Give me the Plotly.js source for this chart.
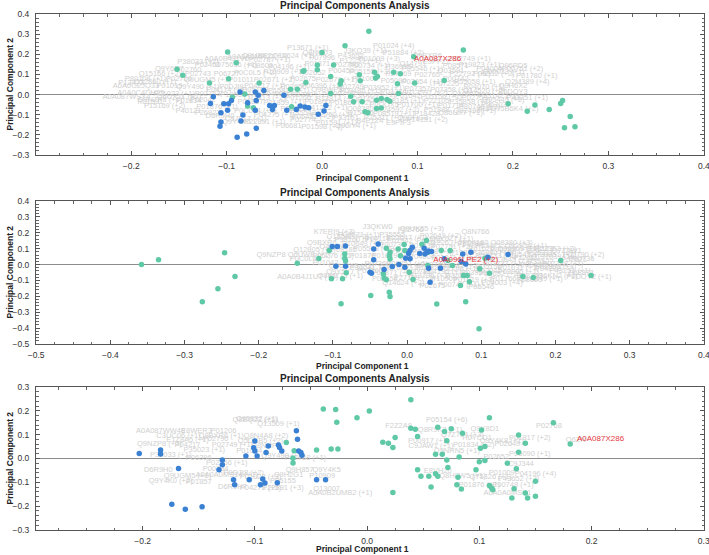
<!DOCTYPE html>
<html>
<head>
<meta charset="utf-8">
<script src="https://cdn.plot.ly/plotly-3.0.1.min.js"></script>
<style>html,body{margin:0;padding:0;background:#fff;}#chart{width:709px;height:555px;}</style>
</head>
<body>
<div id="chart"></div>
<script>
// ---------- Panel 1 ----------
const p1GreenX = [-0.099,-0.090,-0.152,-0.146,-0.118,-0.098,-0.066,-0.081,-0.094,-0.078,-0.072,-0.032,-0.033,-0.026,-0.017,-0.020,-0.019,-0.005,-0.005,0.000,0.012,0.009,0.009,
  0.049,0.024,0.148,0.096,0.020,0.019,0.039,0.040,0.055,0.058,0.056,0.075,0.082,0.079,0.080,0.097,0.128,0.030,0.033,0.042,0.057,0.062,0.068,0.071,0.057,0.062,0.045,0.048,0.195,0.215,0.223,0.238,0.250,0.252,0.260,0.254,0.265];
const p1GreenY = [0.212,0.158,0.126,0.096,0.057,0.078,0.057,0.003,-0.013,-0.057,-0.065,-0.060,0.026,0.026,0.060,0.116,0.118,0.123,0.147,0.209,0.147,0.090,0.005,
  0.314,0.242,0.221,0.188,0.069,0.052,0.098,0.069,0.111,0.090,0.082,0.111,0.103,0.054,0.005,0.057,0.070,-0.008,-0.036,-0.036,-0.028,-0.020,-0.025,-0.033,-0.069,-0.067,-0.085,-0.090,-0.046,-0.083,-0.052,-0.074,-0.044,-0.029,-0.109,-0.165,-0.160];
const p1BlueX = [-0.086,-0.070,-0.061,-0.067,-0.040,-0.114,-0.095,-0.069,-0.117,-0.103,-0.098,-0.078,-0.055,-0.050,-0.052,-0.099,-0.070,-0.037,-0.027,-0.023,-0.018,-0.014,0.004,-0.004,0.002,-0.106,-0.083,-0.106,-0.085,-0.107,-0.069,-0.079,-0.089];
const p1BlueY = [0.013,0.013,0.020,-0.003,-0.003,-0.011,-0.029,-0.029,-0.044,-0.046,-0.046,-0.041,-0.054,-0.054,-0.074,-0.078,-0.078,-0.078,-0.074,-0.057,-0.062,-0.065,-0.054,-0.098,-0.082,-0.090,-0.101,-0.136,-0.131,-0.158,-0.167,-0.196,-0.212];
const p1LabelX = [-0.015,0.045,0.075,0.085,0.11,0.155,-0.005,0.03,-0.03,-0.075,-0.1,-0.13,-0.055,0.06,0.12,0.165,0.2,0.21,0.19,0.175,
  -0.16,-0.14,-0.17,-0.13,-0.09,-0.065,-0.035,-0.005,0.025,0.05,0.08,0.105,0.135,0.155,0.11,0.08,0.05,0.02,-0.01,-0.04,-0.07,-0.1,
  -0.185,-0.15,-0.12,-0.085,-0.05,-0.02,0.015,0.045,0.075,0.105,0.13,0.16,0.215,
  -0.195,-0.16,-0.13,-0.095,-0.06,-0.03,0.0,0.03,0.065,0.1,0.135,0.17,0.2,
  -0.19,-0.155,-0.12,-0.085,-0.05,-0.015,0.02,0.055,0.09,0.125,0.16,0.19,0.215,
  -0.17,-0.14,-0.165,-0.14,-0.11,-0.075,-0.04,-0.005,0.03,0.065,0.1,0.135,0.165,0.195,
  -0.107,-0.08,-0.09,-0.05,-0.02,0.01,0.04,0.075,0.11,0.145,-0.06,-0.02,0.015,0.05,0.08,0.11,0.0,-0.035,0.035,
  -0.12,-0.06,0.0,0.04,0.095,0.14,0.18,0.225,0.2,0.17,0.14,-0.175,-0.2,-0.205,-0.18,-0.15,-0.125,-0.1,-0.07,-0.035,0.005,0.04,0.075,0.11,0.15,0.185,
  0.05,0.015,-0.025,-0.06,0.085,0.12,0.155,0.18,-0.07,-0.03,0.005,0.04,0.08,0.12,0.16,-0.12,0.065,0.025,-0.01,0.095];
const p1LabelY = [0.232,0.215,0.240,0.205,0.19,0.175,0.205,0.19,0.19,0.185,0.178,0.162,0.17,0.175,0.16,0.148,0.14,0.125,0.11,0.125,
  0.125,0.12,0.10,0.10,0.145,0.14,0.135,0.15,0.145,0.14,0.135,0.125,0.115,0.10,0.095,0.10,0.11,0.115,0.105,0.11,0.105,0.10,
  0.075,0.075,0.07,0.07,0.07,0.075,0.07,0.075,0.065,0.06,0.05,0.06,0.064,
  0.04,0.04,0.035,0.035,0.04,0.035,0.04,0.035,0.03,0.025,0.02,0.015,0.01,
  0.005,0.0,0.0,-0.005,0.0,-0.005,0.0,-0.005,-0.01,-0.015,-0.02,-0.03,-0.02,
  -0.03,-0.035,-0.055,-0.08,-0.06,-0.04,-0.045,-0.04,-0.045,-0.05,-0.05,-0.055,-0.06,-0.07,
  -0.108,-0.12,-0.135,-0.1,-0.09,-0.1,-0.09,-0.095,-0.095,-0.09,-0.135,-0.125,-0.14,-0.13,-0.14,-0.125,-0.16,-0.155,-0.155,
  0.145,0.19,0.18,0.165,0.15,0.14,0.1,0.09,0.04,0.035,0.075,0.06,0.055,-0.015,-0.04,-0.015,-0.03,0.02,0.02,0.015,0.02,0.015,0.01,0.005,0.0,-0.01,
  -0.03,-0.025,-0.02,-0.02,-0.035,-0.035,-0.04,-0.05,-0.08,-0.07,-0.065,-0.07,-0.075,-0.075,-0.08,-0.09,-0.115,-0.115,-0.11,-0.115];
const p1LabelText = ["P13671 (+1)","J3KQ39 (+1)","P01024 (+4)","P51884 (+2)","Q9BXR6","P02749 (+1)","Q8N6Q3","P43652","Q14624 (+1)","A0A0A0MRJ7","A0A0B4J1V0","P38033 (+2)","P02787 (+1)","P01009 (+3)","E9PFZ2","P19823 (+1)","Q96PD5","P00751 (+2)","Q06033 (+1)","P04004",
  "Q9Y6R7","P02760","Q15166 (+2)","P02743","O75636 (+1)","P08603","P04196 (+1)","P01871","P02790","P00734 (+1)","P36955","P05546 (+1)","Q03591","P22792 (+2)","P02765","P27169","P05155 (+3)","P00450","P02652","P10909 (+1)","P0C0L5 (+2)","P06727",
  "P80108 (+1)","P02766","Q9UGM5 (+1)","P01011","P02671 (+2)","P02675","P02679 (+1)","P01008","P05090","P02654 (+1)","P07225","P55058 (+1)","Q2M389 (+4)",
  "A0A0G2JQ33","P01019","Q9Y490 (+1)","P0DJI8","P04217 (+1)","P02656","P06396 (+2)","P02749","P03952 (+1)","P07357","P07358 (+1)","Q14520 (+2)","P0DOY3",
  "A0A0C4DH25","P01023 (+1)","P02763","P19652 (+1)","P04003","P02748 (+2)","P00747","P08697 (+1)","P01042","P05156 (+1)","P02753","O95445 (+2)","P43251 (+1)",
  "Q9NZP8 (+1)","P01834","P15169 (+2)","P40121","P01876 (+1)","P01857","P01859 (+1)","P01860","P01861 (+2)","P0DOX5","P01700 (+1)","P01714","P80748 (+3)","A0A075B6K4 (+2)",
  "D6R9H0","C9JF17 (+1)","Q9Y4K0","P04275 (+1)","P35542","P02750 (+2)","Q15485","P08519 (+1)","P18428","Q86UX7 (+1)","P22891 (+1)","P02774","P01591 (+1)","B4E1Z4","E9PIF3","P14151 (+2)","P01598 (+4)","P06681","Q96IY4 (+1)",
  "P02461","Q9UBR2 (+1)","P07996","P12259 (+1)","O14791","P08571","P06312 (+2)","P01780 (+1)","Q9H6X2","P04070 (+1)","P00742","Q12860 (+1)","P13473","A0A087WSY4","P01591","Q6UX71 (+2)","P02042","P04114 (+1)","P05160","P15814 (+1)","Q9BWP8","P09486 (+1)","P01344","P13591 (+2)","Q16610","P23142 (+1)",
  "P14543","P12814 (+1)","P01266","Q15113 (+2)","P08185 (+1)","P22105","P35858 (+1)","P06703","P0C0L4 (+1)","P36222","P41222 (+1)","Q08380","P24592 (+2)","P51888","Q92496 (+1)","P26927","P25311 (+1)","P33151","P05452 (+2)","Q9UHG3"];
const p1RedX = [0.121], p1RedY = [0.175], p1RedText = ["A0A087X286"];

// ---------- Panel 2 ----------
const p2GreenX = [-0.358,-0.335,-0.246,-0.232,-0.255,-0.276,-0.148,-0.119,-0.089,-0.084,-0.105,-0.102,-0.087,-0.082,-0.084,-0.083,-0.049,-0.032,-0.031,-0.028,-0.028,-0.023,-0.024,-0.023,-0.024,-0.023,-0.012,-0.009,-0.004,-0.003,0.003,0.008,0.020,0.026,0.028,0.028,0.040,0.046,0.055,0.058,0.061,0.076,0.072,0.079,0.081,0.084,0.097,0.098,0.111,0.156,0.170,0.207,0.248,0.105];
const p2GreenY = [0.000,0.031,0.075,-0.075,-0.153,-0.234,0.008,0.038,-0.247,0.040,0.088,-0.090,-0.090,-0.052,0.067,0.023,-0.195,-0.059,-0.084,-0.096,0.102,0.077,0.056,0.035,-0.174,-0.201,0.098,0.056,0.126,0.088,-0.048,-0.094,0.128,0.151,-0.006,0.077,-0.249,0.088,0.025,0.088,-0.006,-0.069,-0.132,-0.234,-0.069,-0.109,-0.404,-0.027,-0.054,-0.075,-0.082,0.025,-0.069,0.040];
const p2BlueX = [-0.101,-0.094,-0.096,-0.083,-0.083,-0.045,-0.045,-0.039,-0.050,-0.048,-0.031,-0.020,-0.011,-0.003,-0.002,0.002,0.004,0.004,0.007,0.017,0.023,0.024,0.027,0.029,0.033,0.029,0.031,0.045,0.050,0.073,0.075,0.079,0.086,0.109,0.136];
const p2BlueY = [0.113,0.113,-0.010,0.117,-0.010,0.098,0.031,0.130,-0.048,-0.054,-0.031,-0.013,0.000,-0.017,0.040,0.069,0.088,0.036,0.109,0.069,0.102,0.067,0.077,0.086,0.082,-0.023,-0.111,-0.023,0.036,0.019,0.067,0.004,0.077,0.046,0.063];
const p2LabelX = [-0.04,0.02,0.005,0.092,-0.098,-0.065,-0.08,-0.02,0.045,0.06,-0.115,-0.04,0.0,0.03,0.122,0.085,0.16,0.2,0.215,0.238,0.18,0.14,0.1,0.06,0.02,-0.02,-0.06,-0.1,-0.125,-0.085,-0.045,-0.005,0.035,0.075,0.115,0.155,0.195,0.225,
  -0.153,-0.14,-0.1,-0.06,-0.02,0.02,0.06,0.1,0.14,0.18,0.21,-0.11,-0.075,-0.04,0.0,0.035,0.07,0.11,0.15,0.19,0.22,0.245,
  -0.134,-0.09,-0.09,-0.05,-0.02,0.015,0.05,0.09,0.125,0.165,0.2,-0.03,0.01,0.05,0.09,0.128,0.165,0.034,0.07,0.1,-0.005,
  -0.07,-0.01,0.05,0.11,0.15,0.18,0.12,0.16,0.2,0.235,0.13,0.17,0.2,0.235,0.15,0.11,0.07,0.03,-0.01,0.13,0.18,0.07,0.03,-0.06];
const p2LabelY = [0.234,0.226,0.215,0.203,0.203,0.188,0.175,0.185,0.18,0.16,0.136,0.16,0.165,0.145,0.136,0.13,0.115,0.1,0.085,0.061,0.075,0.09,0.1,0.11,0.115,0.12,0.13,0.11,0.09,0.09,0.095,0.085,0.08,0.075,0.07,0.06,0.045,0.025,
  0.061,0.035,0.05,0.055,0.05,0.045,0.04,0.035,0.025,0.015,0.0,0.01,-0.01,0.0,0.005,-0.005,-0.01,-0.015,-0.02,-0.03,-0.044,-0.08,
  -0.077,-0.045,-0.07,-0.04,-0.055,-0.045,-0.05,-0.055,-0.06,-0.07,-0.075,-0.09,-0.085,-0.09,-0.1,-0.12,-0.1,-0.138,-0.13,-0.14,-0.115,
  0.155,0.145,0.135,0.115,0.1,0.095,0.05,0.04,0.06,0.035,0.0,-0.005,-0.015,-0.055,-0.045,-0.04,-0.03,-0.025,-0.02,-0.09,-0.09,-0.075,-0.07,-0.02];
const p2LabelText = ["J3QKW0","Q9UK55 (+3)","P02766","Q8N766","K7ERI9 (+3)","P08571 (+1)","Q15582 (+2)","P35555","P02649 (+2)","Q9Y6Z7 (+1)","Q9BXR6","P04114","P02647 (+1)","P06702","P04180 Q08380 (+3)","P80188","Q92954 (+1)","P22352 (+2)","Q7Z4W1","P02790 (+2)","P25311","P00738 (+1)","P61626","P02751 (+2)","P01033","P00734","P10643 (+1)","O43866","Q12805 (+1)","P08185","P05543 (+1)","P01024","P02768 (+2)","P19827","P36980 (+1)","P05452","Q13103 (+1)","P02671",
  "Q9NZP8 Q6UWE (+1)","P0C0L4","P06276 (+1)","P01876","P01009 (+2)","P04004","P01011 (+1)","P02763","P13645 (+1)","P35527","P02788 (+1)","P01042","Q9UBX5 (+1)","P07360","P00751 (+1)","P02748","P06681 (+2)","P05156","P01031 (+1)","P04278","P43251 (+1)","P0DOY2 (+1)",
  "A0A0B4J1U7 (+3)","Q9Y5Y7","Q8WZ75 (+1)","P02760","P09871 (+1)","P00748","P04196 (+1)","P03951","P19652 (+2)","P02743","Q96KN2 (+1)","P02654","P27169 (+1)","P10909","P01019 (+1)","P04003 (+4)","P08603","P02675","P00747 (+1)","P05546","Q14624 (+2)",
  "P98160 (+1)","P07942","P11226 (+2)","P23471","Q99969 (+1)","P08123","P06733 (+1)","P12111","P20851 (+2)","P00736","P07737 (+1)","P09493","P62805 (+3)","P68871","P69905 (+1)","P02042","P0DJI9 (+1)","P62328","P06702 (+2)","P01766","Q9Y2H9 (+1)","P35858","P13796 (+1)","P30041"];
const p2RedX = [0.079], p2RedY = [0.031], p2RedText = ["A0A096LPE2 (+2)"];

// ---------- Panel 3 ----------
const p3GreenX = [0.039,-0.039,-0.028,0.002,-0.009,-0.027,0.109,0.166,0.181,0.039,0.043,0.014,0.019,0.025,0.023,0.045,0.063,0.069,0.071,0.075,0.085,0.102,0.101,0.105,0.135,0.141,0.061,0.067,0.071,0.082,0.100,0.105,0.045,0.048,0.055,0.061,0.063,0.072,0.081,0.080,0.084,0.057,0.023,0.097,0.109,0.111,0.112,0.125,0.133,0.131,0.129,0.141,0.143,0.150,0.150,0.135,-0.032,-0.026,-0.045,-0.065,-0.072,-0.066,-0.066];
const p3GreenY = [0.247,0.208,0.206,0.199,0.171,0.152,0.171,0.150,0.061,0.127,0.123,0.068,0.064,0.088,0.046,0.092,0.131,0.113,0.075,0.125,0.106,0.120,0.043,0.050,0.099,0.064,0.018,0.018,-0.006,0.006,-0.014,-0.008,-0.047,-0.075,-0.075,-0.064,-0.075,-0.038,-0.079,-0.110,-0.128,-0.120,-0.143,-0.047,-0.113,-0.124,-0.131,-0.020,-0.043,-0.127,-0.166,-0.145,-0.166,-0.159,-0.096,0.026,0.040,0.040,0.036,0.033,0.067,0.001,-0.019];
const p3BlueX = [-0.203,-0.184,-0.184,-0.168,-0.174,-0.162,-0.147,-0.129,-0.129,-0.132,-0.119,-0.118,-0.108,-0.105,-0.101,-0.100,-0.100,-0.098,-0.095,-0.093,-0.091,-0.090,-0.088,-0.079,-0.078,-0.076,-0.080,-0.063,-0.062,-0.061,-0.059,-0.058,-0.045,-0.037];
const p3BlueY = [0.021,0.036,0.019,-0.042,-0.192,-0.213,-0.203,-0.006,-0.026,-0.047,-0.089,-0.110,0.011,-0.089,0.045,0.032,0.074,0.011,-0.110,-0.086,-0.103,0.025,0.053,0.057,0.046,0.032,-0.102,0.116,0.081,0.031,0.025,0.014,-0.089,-0.089];
const p3LabelX = [-0.1,-0.098,-0.079,-0.184,-0.152,-0.128,-0.09,-0.168,-0.13,-0.16,-0.135,-0.095,-0.185,-0.16,-0.12,-0.09,-0.145,-0.105,-0.175,-0.075,-0.15,-0.186,-0.125,-0.135,-0.11,-0.16,-0.125,-0.095,-0.07,-0.075,-0.175,-0.15,-0.12,-0.095,-0.075,-0.06,-0.036,-0.04,-0.036,-0.024,-0.055,
  0.071,0.028,0.065,0.105,0.085,0.162,0.055,0.098,0.12,0.145,0.186,0.057,0.095,0.125,0.08,0.145,0.115,0.137,0.063,0.085,0.11,0.135,0.15,0.1,0.13,0.125,0.12];
const p3LabelY = [0.162,0.166,0.145,0.113,0.113,0.113,0.096,0.096,0.096,0.078,0.08,0.075,0.06,0.058,0.055,0.05,0.035,0.03,0.016,0.01,0.0,-0.047,-0.02,-0.045,-0.06,-0.075,-0.07,-0.08,-0.07,-0.095,-0.095,-0.1,-0.12,-0.125,-0.125,-0.048,-0.05,-0.075,-0.128,-0.145,0.0,
  0.162,0.134,0.12,0.123,0.1,0.138,0.075,0.085,0.075,0.085,0.078,0.053,0.055,0.06,0.03,0.02,0.005,-0.024,-0.054,-0.075,-0.08,-0.085,-0.065,-0.11,-0.11,-0.145,-0.06];
const p3LabelText = ["Q8BQ22 (+1)","O95832 (+1)","Q13509 (+1)","A0A087WW48","E8WER3","P01206","Q8N4A8 (+2)","C3UC06 (+1)","Q9BXR6 (+1)","E1Z8A5 (+1)","P02790","Q5DKB5 (+2)","Q9NZP8 (+3)","P04217","P02749 (+1)","Q8NHP8","P35023 (+1)","P01024","P38033 (+1)","Q9Y490 (+2)","P06396","D6R9H0","P02766 (+1)","P00734","P0DJI8 (+2)","Q9UGM5 (+1)","A0A0A0MS14 (+1)","P01023 (+3)","Q9H2G1","P05155","Q9Y4K0 (+2)","P01857","D6R9H7","P04275 (+5)","P22891 (+3)","Q9H857","Q9Y4K5","P10909","Q13007","A0A0B2UMB2 (+1)","P02768 (+1)",
  "P05154 (+6)","F2Z2A8","Q8R9K3 (+1)","Q9Y8D1","Q7Z794 (+3)","P02768","P00917 (+1)","H0YCD1","Q9Y4K8 (+1)","P01817 (+2)","Q6ZN","C9JAW1 (+1)","P01834 (+2)","P02649","Q9NRN5 (+1)","P05090 (+1)","P02652","C9J344","E8VH20","Q8H0W5 (+1)","Q75326 (+1)","P43652 (+3)","P04196 (+4)","P01876 (+1)","P00748 (+1)","A0A0A0MSK1","P01009"];
const p3RedX = [0.208], p3RedY = [0.081], p3RedText = ["A0A087X286"];

// ---------- shared text ----------
const panelTitle = "Principal Components Analysis";
const xTitle = "Principal Component 1";
const yTitle = "Principal Component 2";

const GREEN = "#5fc8a6", BLUE = "#3a80d3", GRAY = "#d0d0d0", RED = "#e3393f";
const FONT = "Liberation Sans, Arial, sans-serif";

function panelTraces(i, lx, ly, lt, gx, gy, bx, by, rx, ry, rt) {
  const xa = i === 1 ? "x" : "x" + i, ya = i === 1 ? "y" : "y" + i;
  return [
    {type:"scatter", mode:"text", x:lx, y:ly, text:lt, xaxis:xa, yaxis:ya, hoverinfo:"skip",
     textfont:{family:FONT, size:7.5, color:GRAY}, cliponaxis:true},
    {type:"scatter", mode:"markers", x:gx, y:gy, xaxis:xa, yaxis:ya,
     marker:{size:5.5, color:GREEN, line:{width:0}}},
    {type:"scatter", mode:"markers", x:bx, y:by, xaxis:xa, yaxis:ya,
     marker:{size:5.5, color:BLUE, line:{width:0}}},
    {type:"scatter", mode:"text", x:rx, y:ry, text:rt, xaxis:xa, yaxis:ya,
     textfont:{family:FONT, size:8, color:RED}}
  ];
}

const data = [].concat(
  panelTraces(1, p1LabelX, p1LabelY, p1LabelText, p1GreenX, p1GreenY, p1BlueX, p1BlueY, p1RedX, p1RedY, p1RedText),
  panelTraces(2, p2LabelX, p2LabelY, p2LabelText, p2GreenX, p2GreenY, p2BlueX, p2BlueY, p2RedX, p2RedY, p2RedText),
  panelTraces(3, p3LabelX, p3LabelY, p3LabelText, p3GreenX, p3GreenY, p3BlueX, p3BlueY, p3RedX, p3RedY, p3RedText)
);

const W = 709, H = 555;
const xDom = [36/W, 704/W];
function xAxis(range, anchor) {
  return {domain:xDom, range:range, anchor:anchor, dtick:0.1, tick0:0, tickformat:".1f",
    showgrid:false, zeroline:false, showline:true, linecolor:"#555", linewidth:1, mirror:"allticks",
    ticks:"inside", ticklen:4, tickcolor:"#555", tickwidth:1,
    minor:{dtick:0.025, ticks:"inside", ticklen:2.5, tickcolor:"#666", showgrid:false},
    tickfont:{family:FONT, size:8.5, color:"#333"}, ticklabelstandoff:3, ticklabeloverflow:"allow",
    automargin:false, fixedrange:true};
}
function yAxis(range, dom, anchor) {
  return {domain:dom, range:range, anchor:anchor, dtick:0.1, tick0:0, tickformat:".1f",
    showgrid:false, zeroline:true, zerolinecolor:"#8c8c8c", zerolinewidth:1.5,
    showline:true, linecolor:"#555", linewidth:1, mirror:"allticks",
    ticks:"inside", ticklen:4, tickcolor:"#555", tickwidth:1,
    minor:{dtick:0.02, ticks:"inside", ticklen:2.5, tickcolor:"#666", showgrid:false},
    tickfont:{family:FONT, size:8.5, color:"#333"}, ticklabelstandoff:4, ticklabeloverflow:"allow",
    automargin:false, fixedrange:true};
}
const dom1 = [1-155/H, 1-14/H], dom2 = [1-344/H, 1-201/H], dom3 = [1-530/H, 1-387/H];

const annotations = [];
[[5, 178, dom1], [192, 366, dom2], [378, 549, dom3]].forEach(function(p){
  annotations.push({xref:"paper", yref:"paper", x:355/W, y:1-p[0]/H, xanchor:"center", yanchor:"middle", showarrow:false,
    text:"<b>"+panelTitle+"</b>", font:{family:FONT, size:10, color:"#222"}});
  annotations.push({xref:"paper", yref:"paper", x:362/W, y:1-p[1]/H, xanchor:"center", yanchor:"middle", showarrow:false,
    text:"<b>"+xTitle+"</b>", font:{family:FONT, size:8.5, color:"#222"}});
  annotations.push({xref:"paper", yref:"paper", x:9/W, y:(p[2][0]+p[2][1])/2, xanchor:"center", yanchor:"middle", showarrow:false,
    textangle:-90, text:"<b>"+yTitle+"</b>", font:{family:FONT, size:8.5, color:"#222"}});
});

const layout = {
  width:W, height:H, margin:{l:0, r:0, t:0, b:0}, showlegend:false,
  paper_bgcolor:"#fff", plot_bgcolor:"#fff", hovermode:false,
  xaxis: xAxis([-0.2998, 0.4002], "y"),
  yaxis: yAxis([-0.3002, 0.4002], dom1, "x"),
  xaxis2: xAxis([-0.5002, 0.4002], "y2"),
  yaxis2: yAxis([-0.5002, 0.4002], dom2, "x2"),
  xaxis3: xAxis([-0.295, 0.3002], "y3"),
  yaxis3: yAxis([-0.3002, 0.3002], dom3, "x3"),
  annotations: annotations
};

Plotly.newPlot("chart", data, layout, {staticPlot:true, displayModeBar:false});
</script>
</body>
</html>
